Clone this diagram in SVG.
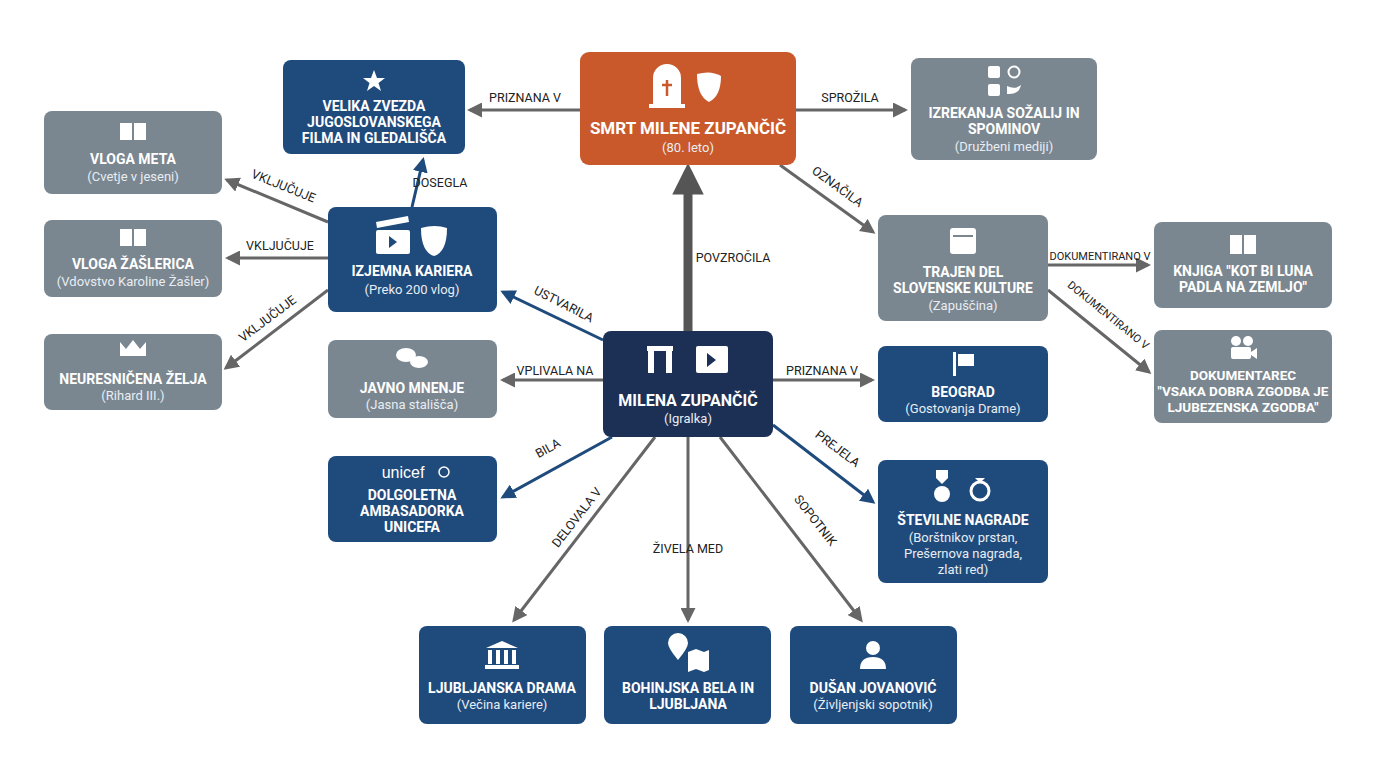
<svg xmlns="http://www.w3.org/2000/svg" width="1376" height="768" viewBox="0 0 1376 768">
<style>
.t{font-family:"Roboto","Liberation Sans",sans-serif;font-weight:bold;font-size:14px;fill:#fff;text-anchor:middle}
.s{font-family:"Roboto","Liberation Sans",sans-serif;font-size:13px;fill:#e8edf3;text-anchor:middle}
.l{font-family:"Roboto","Liberation Sans",sans-serif;font-size:12.5px;fill:#222;text-anchor:middle}
.g{fill:#7b8790}.n{fill:#1f4a7c}.o{fill:#c9582a}.d{fill:#1c2f55}
.cg{stroke:#666;stroke-width:3;fill:none;marker-end:url(#ag)}
.cn{stroke:#1f4a7c;stroke-width:3;fill:none;marker-end:url(#an)}
.ic{fill:#fff}
</style>
<defs>
<marker id="ag" markerWidth="5" markerHeight="5" refX="4" refY="2.5" orient="auto"><path d="M0,0L5,2.5L0,5z" fill="#666"/></marker>
<marker id="an" markerWidth="5" markerHeight="5" refX="4" refY="2.5" orient="auto"><path d="M0,0L5,2.5L0,5z" fill="#1f4a7c"/></marker>
<marker id="ab" markerWidth="3.5" markerHeight="3.5" refX="2.5" refY="1.75" orient="auto"><path d="M0,0L3.5,1.75L0,3.5z" fill="#555"/></marker>
</defs>
<rect width="1376" height="768" fill="#fff"/>
<g id="connectors">
<path d="M688,331V172" stroke="#555" stroke-width="9" fill="none" marker-end="url(#ab)"/>
<text class="l" x="733" y="262">POVZROČILA</text>
<path class="cg" d="M580,110H470"/><text class="l" x="525" y="102">PRIZNANA V</text>
<path class="cg" d="M796,110H905"/><text class="l" x="850" y="102">SPROŽILA</text>
<path class="cg" d="M780,165L873,232"/><text class="l" transform="translate(835,190) rotate(36)">OZNAČILA</text>
<path class="cn" d="M412,207L423,160"/><text class="l" x="440" y="187">DOSEGLA</text>
<path class="cn" d="M603,340L503,292"/><text class="l" transform="translate(562,308) rotate(27)">USTVARILA</text>
<path class="cg" d="M328,222L227,180"/><text class="l" transform="translate(282,190) rotate(22)">VKLJUČUJE</text>
<path class="cg" d="M328,258H228"/><text class="l" x="280" y="250">VKLJUČUJE</text>
<path class="cg" d="M328,290L226,368"/><text class="l" transform="translate(270,322) rotate(-37)">VKLJUČUJE</text>
<path class="cg" d="M603,380H503"/><text class="l" x="555" y="375">VPLIVALA NA</text>
<path class="cg" d="M773,380H872"/><text class="l" x="822" y="375">PRIZNANA V</text>
<path class="cn" d="M612,437L503,497"/><text class="l" transform="translate(550,452) rotate(-29)">BILA</text>
<path class="cn" d="M773,425L873,502"/><text class="l" transform="translate(835,452) rotate(37)">PREJELA</text>
<path class="cg" d="M655,437L514,620"/><text class="l" transform="translate(580,520) rotate(-52)">DELOVALA V</text>
<path class="cg" d="M688,437V620"/><text class="l" x="688" y="553">ŽIVELA MED</text>
<path class="cg" d="M720,437L861,620"/><text class="l" transform="translate(812,523) rotate(52)">SOPOTNIK</text>
<path class="cg" d="M1048,265H1148"/><text class="l" style="font-size:11px" x="1100" y="260">DOKUMENTIRANO V</text>
<path class="cg" d="M1048,290L1149,372"/><text class="l" style="font-size:11px" transform="translate(1106,318) rotate(39)">DOKUMENTIRANO V</text>
</g>
<g id="smrt"><rect class="o" x="580" y="52" width="216" height="113" rx="9"/>
<path class="ic" d="M653,104V78a14,14 0 0 1 28,0V104zM649,104h36v4h-36z"/><path d="M667,80v16M662,85h10" stroke="#c9582a" stroke-width="2.5"/>
<path class="ic" d="M697,74q14,-4 24,2q0,20 -12,26q-12,-6 -12,-28z"/>
<text class="t" style="font-size:17px" x="688" y="134">SMRT MILENE ZUPANČIČ</text><text class="s" x="688" y="152">(80. leto)</text></g>
<g id="velika"><rect class="n" x="283" y="60" width="182" height="94" rx="8"/>
<path class="ic" d="M374,70l3,8h8l-6.5,5l2.5,8l-7-5l-7,5l2.5-8l-6.5-5h8z"/>
<text class="t" x="374" y="111">VELIKA ZVEZDA</text><text class="t" x="374" y="127">JUGOSLOVANSKEGA</text><text class="t" x="374" y="143">FILMA IN GLEDALIŠČA</text></g>
<g id="izrekanja"><rect class="g" x="911" y="58" width="186" height="102" rx="8"/>
<rect class="ic" x="988" y="66" width="12" height="12" rx="2"/><circle cx="1014" cy="72" r="5.5" fill="none" stroke="#fff" stroke-width="2"/>
<rect class="ic" x="988" y="84" width="12" height="12" rx="2"/><path class="ic" d="M1007,86q8,4 14,-1q-2,10 -14,9z"/>
<text class="t" x="1004" y="118">IZREKANJA SOŽALIJ IN</text><text class="t" x="1004" y="134">SPOMINOV</text><text class="s" x="1004" y="151">(Družbeni mediji)</text></g>
<g id="meta"><rect class="g" x="44" y="111" width="178" height="83" rx="8"/>
<path class="ic" d="M120,123h12v17h-12zM134,123h12v17h-12z"/>
<text class="t" x="133" y="164">VLOGA META</text><text class="s" x="133" y="181">(Cvetje v jeseni)</text></g>
<g id="izjemna"><rect class="n" x="328" y="207" width="169" height="105" rx="8"/>
<rect class="ic" x="376" y="230" width="34" height="24" rx="2"/><path d="M389,236l8,6l-8,6z" fill="#1f4a7c"/><path class="ic" d="M376,222l32,-6l1,6l-32,6z"/>
<path class="ic" d="M421,228q14,-4 26,0q0,24 -13,28q-13,-4 -13,-28z"/>
<text class="t" x="412" y="276">IZJEMNA KARIERA</text><text class="s" x="412" y="294">(Preko 200 vlog)</text></g>
<g id="zaslerica"><rect class="g" x="44" y="220" width="178" height="77" rx="8"/>
<path class="ic" d="M120,229h12v17h-12zM134,229h12v17h-12z"/>
<text class="t" x="133" y="269">VLOGA ŽAŠLERICA</text><text class="s" x="133" y="286">(Vdovstvo Karoline Žašler)</text></g>
<g id="trajen"><rect class="g" x="878" y="215" width="170" height="106" rx="8"/>
<rect class="ic" x="950" y="228" width="26" height="26" rx="3"/><path d="M953,236h20" stroke="#7b8790" stroke-width="2"/>
<text class="t" x="963" y="277">TRAJEN DEL</text><text class="t" x="963" y="293">SLOVENSKE KULTURE</text><text class="s" x="963" y="310">(Zapuščina)</text></g>
<g id="knjiga"><rect class="g" x="1154" y="222" width="178" height="86" rx="8"/>
<path class="ic" d="M1230,235h12v19h-12zM1244,235h12v19h-12z"/>
<text class="t" x="1243" y="276">KNJIGA "KOT BI LUNA</text><text class="t" x="1243" y="292">PADLA NA ZEMLJO"</text></g>
<g id="neuresnicena"><rect class="g" x="44" y="334" width="178" height="76" rx="8"/>
<path class="ic" d="M120,342l6,7l7,-9l7,9l6,-7v14h-26z"/>
<text class="t" x="133" y="384">NEURESNIČENA ŽELJA</text><text class="s" x="133" y="400">(Rihard III.)</text></g>
<g id="javno"><rect class="g" x="328" y="340" width="169" height="78" rx="8"/>
<ellipse class="ic" cx="406" cy="355" rx="10" ry="7"/><ellipse class="ic" cx="419" cy="362" rx="9" ry="6"/>
<text class="t" x="412" y="393">JAVNO MNENJE</text><text class="s" x="412" y="409">(Jasna stališča)</text></g>
<g id="milena"><rect class="d" x="603" y="331" width="170" height="106" rx="8"/>
<path class="ic" d="M647,346h26v5h-26zM648,351h6v22h-6zM666,351h6v22h-6z"/>
<rect class="ic" x="696" y="346" width="32" height="27" rx="2"/><path d="M707,353l9,7l-9,7z" fill="#1c2f55"/>
<text class="t" style="font-size:16px" x="688" y="406">MILENA ZUPANČIČ</text><text class="s" x="688" y="423">(Igralka)</text></g>
<g id="beograd"><rect class="n" x="878" y="346" width="170" height="76" rx="8"/>
<path class="ic" d="M953,352h3v24h-3zM958,354h16v12h-16z"/>
<text class="t" x="963" y="397">BEOGRAD</text><text class="s" x="963" y="413">(Gostovanja Drame)</text></g>
<g id="dokumentarec"><rect class="g" x="1154" y="330" width="178" height="93" rx="8"/>
<circle class="ic" cx="1236" cy="341" r="5"/><circle class="ic" cx="1248" cy="341" r="5"/><rect class="ic" x="1231" y="347" width="20" height="12" rx="2"/><path class="ic" d="M1251,352l6,-4v11l-6,-4z"/>
<text class="t" style="font-size:13.5px" x="1243" y="380">DOKUMENTAREC</text><text class="t" style="font-size:13.5px" x="1243" y="396">"VSAKA DOBRA ZGODBA JE</text><text class="t" style="font-size:13.5px" x="1243" y="412">LJUBEZENSKA ZGODBA"</text></g>
<g id="unicef"><rect class="n" x="328" y="456" width="169" height="86" rx="8"/>
<text x="403" y="478" style="font-family:'Liberation Sans',sans-serif;font-size:16px;fill:#fff;text-anchor:middle">unicef</text><circle cx="444" cy="472" r="5" fill="none" stroke="#fff" stroke-width="1.5"/>
<text class="t" x="412" y="500">DOLGOLETNA</text><text class="t" x="412" y="516">AMBASADORKA</text><text class="t" x="412" y="532">UNICEFA</text></g>
<g id="nagrade"><rect class="n" x="878" y="460" width="170" height="123" rx="8"/>
<path class="ic" d="M936,470h12v8l-6,6l-6,-6z"/><circle class="ic" cx="942" cy="494" r="8"/>
<circle cx="980" cy="491" r="9" fill="none" stroke="#fff" stroke-width="3"/><path class="ic" d="M975,478h10l-5,5z"/>
<text class="t" x="963" y="525">ŠTEVILNE NAGRADE</text><text class="s" x="963" y="542">(Borštnikov prstan,</text><text class="s" x="963" y="558">Prešernova nagrada,</text><text class="s" x="963" y="574">zlati red)</text></g>
<g id="ljubljanska"><rect class="n" x="419" y="626" width="167" height="98" rx="8"/>
<path class="ic" d="M502,641l-16,7h32zM488,650h4v14h-4zM496,650h4v14h-4zM504,650h4v14h-4zM512,650h4v14h-4zM485,665h34v4h-34z"/>
<text class="t" x="502" y="693">LJUBLJANSKA DRAMA</text><text class="s" x="502" y="709">(Večina kariere)</text></g>
<g id="bohinjska"><rect class="n" x="604" y="626" width="167" height="98" rx="8"/>
<path class="ic" d="M678,660q-10,-12 -10,-17a10,10 0 0 1 20,0q0,5 -10,17z"/><path class="ic" d="M688,652l8,-3l8,3l5,-2v20l-5,2l-8,-3l-8,3z"/>
<text class="t" x="688" y="693">BOHINJSKA BELA IN</text><text class="t" x="688" y="709">LJUBLJANA</text></g>
<g id="dusan"><rect class="n" x="790" y="626" width="167" height="98" rx="8"/>
<circle class="ic" cx="873" cy="648" r="7"/><path class="ic" d="M860,669q0,-12 13,-12q13,0 13,12z"/>
<text class="t" x="873" y="693">DUŠAN JOVANOVIĆ</text><text class="s" x="873" y="709">(Življenjski sopotnik)</text></g>
</svg>
